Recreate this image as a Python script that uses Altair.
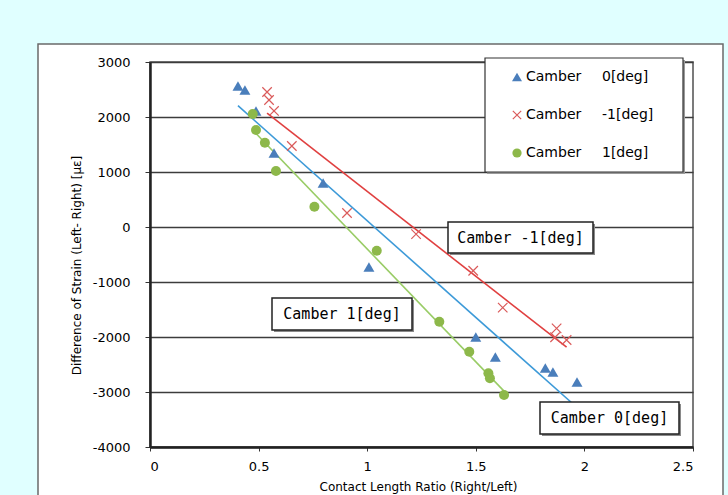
import altair as alt
import pandas as pd

# ---- data ----
x_c0 = [0.405, 0.437, 0.488, 0.571, 0.797, 1.008, 1.50, 1.59, 1.82, 1.855, 1.966]
y_c0 = [2564, 2490, 2110, 1345, 800, -727, -2000, -2364, -2564, -2636, -2818]
x_cm1 = [0.539, 0.548, 0.571, 0.653, 0.907, 1.225, 1.488, 1.624, 1.872, 1.865, 1.918]
y_cm1 = [2455, 2309, 2110, 1473, 255, -130, -795, -1467, -1842, -2005, -2055]
x_c1 = [0.473, 0.488, 0.529, 0.580, 0.757, 1.044, 1.332, 1.47, 1.558, 1.565, 1.63]
y_c1 = [2055, 1764, 1533, 1018, 369, -431, -1722, -2267, -2660, -2751, -3055]

x_ticks = [0, 0.5, 1, 1.5, 2, 2.5]
y_ticks = [-4000, -3000, -2000, -1000, 0, 1000, 2000, 3000]

series_names = ["Camber   0[deg]", "Camber   -1[deg]", "Camber   1[deg]"]
legend_values = ["0[deg]", "-1[deg]", "1[deg]"]
annot_texts = ["Camber  -1[deg]", "Camber  1[deg]", "Camber  0[deg]"]

W, H = 543, 385

df0 = pd.DataFrame({"x": x_c0, "y": y_c0})
dfm1 = pd.DataFrame({"x": x_cm1, "y": y_cm1})
df1 = pd.DataFrame({"x": x_c1, "y": y_c1})

xs = alt.Scale(domain=[0, 2.5], nice=False, zero=False)
ys = alt.Scale(domain=[-4000, 3000], nice=False, zero=False)

x_axis = alt.Axis(values=x_ticks, labelExpr="'' + datum.value", grid=False, tickSize=4, tickColor="#333",
                  domainColor="#222", domainWidth=2.5, labelPadding=9, labelFontSize=13,
                  labelColor="black", labelFont="DejaVu Sans",
                  title="Contact Length Ratio (Right/Left)", titleFontSize=12,
                  titleFont="DejaVu Sans", titleFontWeight="normal", titleColor="black",
                  titleX=268, titleY=34, titleBaseline="top", titleAlign="center")
y_axis = alt.Axis(values=y_ticks, labelExpr="'' + datum.value", grid=True, gridColor="#3c3c3c", gridWidth=1.6,
                  tickSize=5, tickColor="#333", domainColor="#222", domainWidth=2.5,
                  labelPadding=15, labelFontSize=13, labelColor="black", labelFont="DejaVu Sans",
                  title="Difference of Strain (Left- Right) [\u03bc\u03b5]", titleFontSize=12,
                  titleFont="DejaVu Sans", titleFontWeight="normal", titleColor="black",
                  titleX=-74, titleY=203, titleAlign="center", titleBaseline="middle", titleAngle=-90)

blank = alt.Data(values=[{}])

def box(x1, x2, y1, y2, fill="white", stroke=None, sw=1.0):
    kw = dict(fill=fill)
    if stroke:
        kw.update(stroke=stroke, strokeWidth=sw)
    return alt.Chart(blank).mark_rect(**kw).encode(
        x=alt.value(x1), x2=alt.value(x2), y=alt.value(y1), y2=alt.value(y2))

cyan = "#E0FFFF"
deco = [
    box(-150, 578, -62, -18, fill=cyan),
    box(-150, -112, -62, 433, fill=cyan),
    box(573, 578, -62, 433, fill=cyan),
    box(-112, 573, -18, 450, fill=None, stroke="#6a6a6a", sw=1.5),
]

# regression lines
def trend(df, color):
    return alt.Chart(df).transform_regression("x", "y").mark_line(
        color=color, strokeWidth=1.6).encode(
        x=alt.X("x:Q", scale=xs, axis=x_axis), y=alt.Y("y:Q", scale=ys, axis=y_axis))

lines = [trend(df0, "#3D9AD8"), trend(dfm1, "#E04040"), trend(df1, "#99CC66")]

enc = dict(x=alt.X("x:Q", scale=xs, axis=x_axis), y=alt.Y("y:Q", scale=ys, axis=y_axis))
XPATH = "M-1,-1L1,1M-1,1L1,-1"
pts = [
    alt.Chart(df0).mark_point(shape="triangle-up", filled=True, color="#4A7EBB",
                              size=120, opacity=1).encode(**enc),
    alt.Chart(dfm1).mark_point(shape=XPATH, filled=False, color="#DA5A5A",
                               size=90, strokeWidth=1.2, opacity=1).encode(**enc),
    alt.Chart(df1).mark_point(shape="circle", filled=True, color="#8DB84A",
                              size=100, opacity=1).encode(**enc),
]

# legend box
leg_df = pd.DataFrame({"name": series_names, "val": legend_values, "py": [15, 53, 91]})
legend = [
    box(337, 535, -2, 112, fill="#9a9a9a"),
    box(335, 533, -4, 110, fill="white", stroke="#333", sw=1.2),
    alt.Chart(leg_df.iloc[[0]]).mark_point(shape="triangle-up", filled=True, color="#4A7EBB",
                                           size=100, opacity=1).encode(
        x=alt.value(367), y=alt.Y("py:Q", scale=None)),
    alt.Chart(leg_df.iloc[[1]]).mark_point(shape=XPATH, filled=False, color="#DA5A5A",
                                           size=70, strokeWidth=1.2, opacity=1).encode(
        x=alt.value(367), y=alt.Y("py:Q", scale=None)),
    alt.Chart(leg_df.iloc[[2]]).mark_point(shape="circle", filled=True, color="#8DB84A",
                                           size=85, opacity=1).encode(
        x=alt.value(367), y=alt.Y("py:Q", scale=None)),
    alt.Chart(leg_df).transform_calculate(lab="'Camber'").mark_text(
        align="left", baseline="middle", fontSize=14, font="DejaVu Sans", color="black").encode(
        x=alt.value(376), y=alt.Y("py:Q", scale=None), text="lab:N"),
    alt.Chart(leg_df).mark_text(
        align="left", baseline="middle", fontSize=14, font="DejaVu Sans", color="black").encode(
        x=alt.value(452), y=alt.Y("py:Q", scale=None), text="val:N"),
]

# annotation boxes
ann_df = pd.DataFrame({"t": annot_texts,
                       "x0": [298, 122, 390], "x1": [443, 262, 529],
                       "y0": [160, 236, 340], "y1": [191, 268, 372]})
ann_df["cx"] = (ann_df.x0 + ann_df.x1) / 2
ann_df["cy"] = (ann_df.y0 + ann_df.y1) / 2
ann_sh = ann_df.assign(x0=ann_df.x0 + 2, x1=ann_df.x1 + 2, y0=ann_df.y0 + 2, y1=ann_df.y1 + 2)
annots = [
    alt.Chart(ann_sh).mark_rect(fill="#8a8a8a").encode(
        x=alt.X("x0:Q", scale=None), x2="x1:Q", y=alt.Y("y0:Q", scale=None), y2="y1:Q"),
    alt.Chart(ann_df).mark_rect(fill="white", stroke="#222", strokeWidth=1.5).encode(
        x=alt.X("x0:Q", scale=None), x2="x1:Q", y=alt.Y("y0:Q", scale=None), y2="y1:Q"),
    alt.Chart(ann_df).mark_text(fontSize=15, font="DejaVu Sans Mono", color="black",
                                baseline="middle", align="center").encode(
        x=alt.X("cx:Q", scale=None), y=alt.Y("cy:Q", scale=None), text="t:N"),
]

chart = alt.layer(*deco, *lines, *pts, *legend, *annots).properties(
    width=W, height=H,
    padding={"left": 150, "top": 62, "right": 728 - 150 - W, "bottom": 495 - 62 - H},
    autosize=alt.AutoSizeParams(type="none"),
).configure(background="white").configure_view(stroke="#505050", strokeWidth=1.5)

chart.save("out.html", embed_options={"renderer": "svg", "actions": False})
